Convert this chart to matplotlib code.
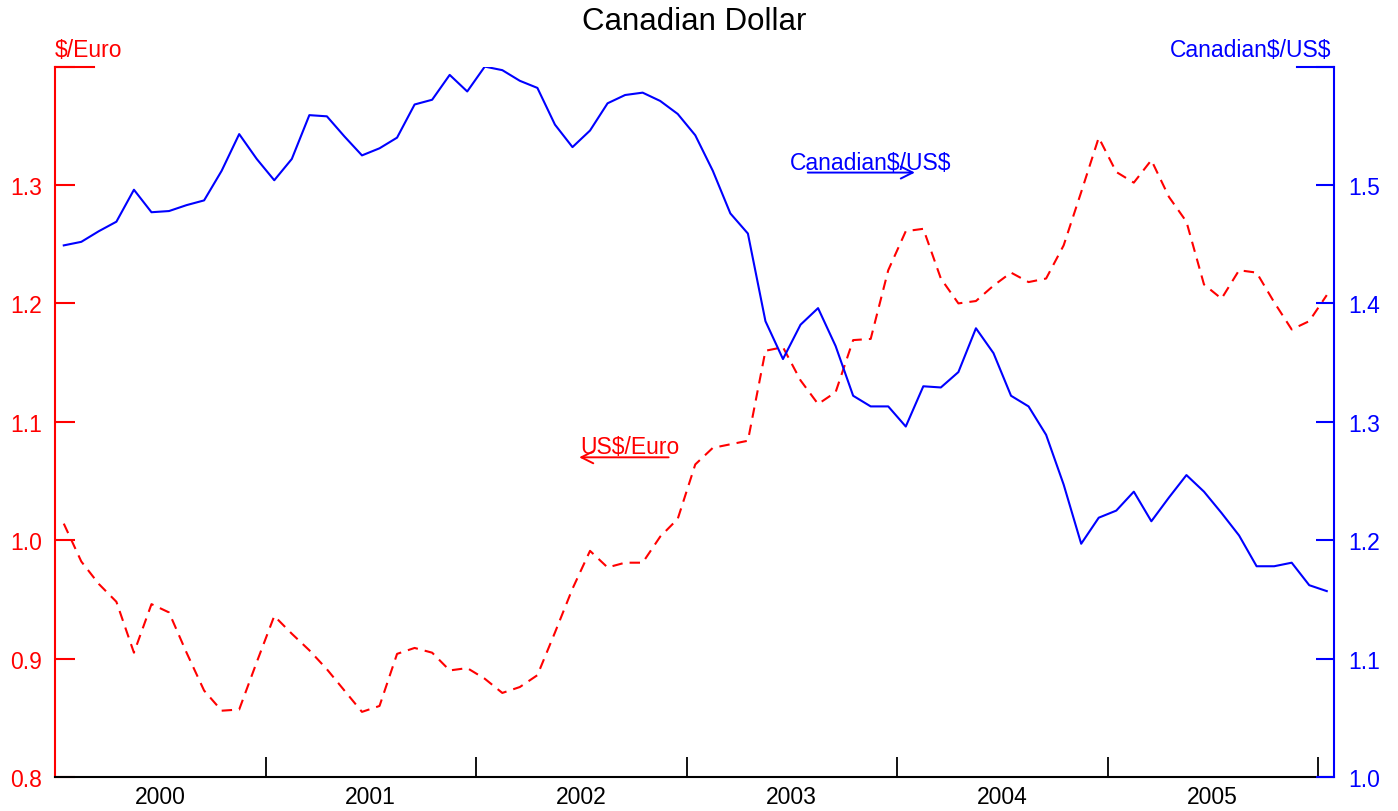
import numpy as np
import pandas as pd
import matplotlib
matplotlib.use('Agg')
import matplotlib.pyplot as plt

plt.rcParams['font.family'] = ['Liberation Sans', 'DejaVu Sans']

# monthly observations, Jan 2000 - Jan 2006
months = pd.date_range('2000-01-01', periods=73, freq='MS')

usd_per_euro = [
    1.014, 0.982, 0.963, 0.948, 0.905, 0.946, 0.939, 0.905, 0.873, 0.856, 0.857, 0.897,
    0.936, 0.921, 0.907, 0.891, 0.873, 0.855, 0.860, 0.904, 0.909, 0.905, 0.890, 0.892,
    0.883, 0.871, 0.876, 0.886, 0.922, 0.959, 0.991, 0.977, 0.981, 0.981, 1.003, 1.018,
    1.064, 1.078, 1.081, 1.084, 1.160, 1.163, 1.135, 1.115, 1.125, 1.169, 1.170, 1.228,
    1.261, 1.263, 1.221, 1.200, 1.202, 1.215, 1.226, 1.218, 1.221, 1.249, 1.294, 1.340,
    1.311, 1.302, 1.321, 1.290, 1.269, 1.216, 1.204, 1.228, 1.226, 1.201, 1.178, 1.185,
    1.207,
]

cad_per_usd = [
    1.449, 1.452, 1.461, 1.469, 1.496, 1.477, 1.478, 1.483, 1.487, 1.512, 1.543, 1.522,
    1.504, 1.522, 1.559, 1.558, 1.541, 1.525, 1.531, 1.540, 1.568, 1.572, 1.593, 1.579,
    1.600, 1.597, 1.588, 1.582, 1.551, 1.532, 1.546, 1.569, 1.576, 1.578, 1.571, 1.560,
    1.542, 1.512, 1.476, 1.459, 1.385, 1.353, 1.382, 1.396, 1.364, 1.322, 1.313, 1.313,
    1.296, 1.330, 1.329, 1.342, 1.379, 1.358, 1.322, 1.313, 1.289, 1.247, 1.197, 1.219,
    1.225, 1.241, 1.216, 1.236, 1.255, 1.241, 1.223, 1.204, 1.178, 1.178, 1.181, 1.162,
    1.157,
]

years = [2000, 2001, 2002, 2003, 2004, 2005]
left_ticks = [0.8, 0.9, 1.0, 1.1, 1.2, 1.3, 1.4]
right_ticks = [1.0, 1.1, 1.2, 1.3, 1.4, 1.5, 1.6]

# decimal-year position of each month (mid month)
t = months.year + (months.month - 0.5) / 12.0

fig = plt.figure(figsize=(13.98, 8.12), dpi=100)
W, H = 1398., 812.
ax = fig.add_axes([55 / W, (H - 778) / H, (1334 - 55) / W, (778 - 67.6) / H])
ax2 = ax.twinx()

ax.plot(t, usd_per_euro, color='#ff0000', lw=1.5, dashes=(5.0, 3.4))
ax2.plot(t, cad_per_usd, color='#0000ff', lw=1.5)

ax.set_xlim(2000.0, 2006.076)
ax.set_ylim(0.8, 1.4)
ax2.set_ylim(1.0, 1.6)

# x axis: ticks at year boundaries, labels at mid year
ax.set_xticks([y + 1 for y in years])
ax.set_xticklabels([])
ax.set_xticks([y + 0.5 for y in years], minor=True)
ax.set_xticklabels([str(y) for y in years], minor=True, fontsize=16.5)
ax.tick_params(axis='x', which='major', direction='in', length=14.4, width=1.3, color='black')
ax.tick_params(axis='x', which='minor', length=0, pad=6, labelcolor='black')

ax.set_yticks(left_ticks)
ax.set_yticklabels(['%.1f' % v for v in left_ticks[:-1]] + [''])
ax.tick_params(axis='y', direction='in', length=14.4, width=1.5, colors='#ff0000',
               labelsize=16.5, pad=9.5)

ax2.set_yticks(right_ticks)
ax2.set_yticklabels(['%.1f' % v for v in right_ticks[:-1]] + [''])
ax2.tick_params(axis='y', direction='in', length=13, width=1.5, colors='#0000ff',
                labelsize=16.5, pad=10.5)

for s in ['top', 'right']:
    ax.spines[s].set_visible(False)
for s in ['top', 'left', 'bottom']:
    ax2.spines[s].set_visible(False)
ax.spines['left'].set_color('#ff0000')
ax.spines['left'].set_linewidth(1.5)
ax.spines['bottom'].set_color('black')
ax.spines['bottom'].set_linewidth(1.5)
ax2.spines['right'].set_color('#0000ff')
ax2.spines['right'].set_linewidth(1.5)

# short caps at top of both value axes
ax.axhline(1.4, xmin=0, xmax=0.0305, color='#ff0000', lw=1.5, clip_on=False)
ax2.axhline(1.6, xmin=0.971, xmax=1, color='#0000ff', lw=1.5, clip_on=False)

# axis names
ax.annotate(r'\$/Euro', xy=(0, 1), xycoords='axes fraction', xytext=(0, 7.5),
            textcoords='offset points', ha='left', va='baseline',
            color='#ff0000', fontsize=16.5)
ax2.annotate(r'Canadian\$/US\$', xy=(1, 1), xycoords='axes fraction', xytext=(-2, 7.5),
             textcoords='offset points', ha='right', va='baseline',
             color='#0000ff', fontsize=16.5)

# in-plot series labels with arrows pointing to their axes
ax2.text(2003.49, 1.5135, r'Canadian\$/US\$', color='#0000ff', fontsize=16.5,
         ha='left', va='baseline')
ax2.annotate('', xy=(2004.085, 1.5105), xytext=(2003.576, 1.5105),
             arrowprops=dict(arrowstyle='->,head_length=0.86,head_width=0.43',
                             color='#0000ff', lw=1.4, shrinkA=0, shrinkB=0,
                             mutation_scale=10))
ax.text(2002.496, 1.0736, r'US\$/Euro', color='#ff0000', fontsize=16.5,
        ha='left', va='baseline')
ax.annotate('', xy=(2002.49, 1.070), xytext=(2002.915, 1.070),
            arrowprops=dict(arrowstyle='->,head_length=0.86,head_width=0.43',
                            color='#ff0000', lw=1.4, shrinkA=0, shrinkB=0,
                            mutation_scale=10))

fig.suptitle('Canadian Dollar', fontsize=22.5, x=694 / W, y=1 - 7 / H, va='top')

fig.savefig('out.png', dpi=100)
